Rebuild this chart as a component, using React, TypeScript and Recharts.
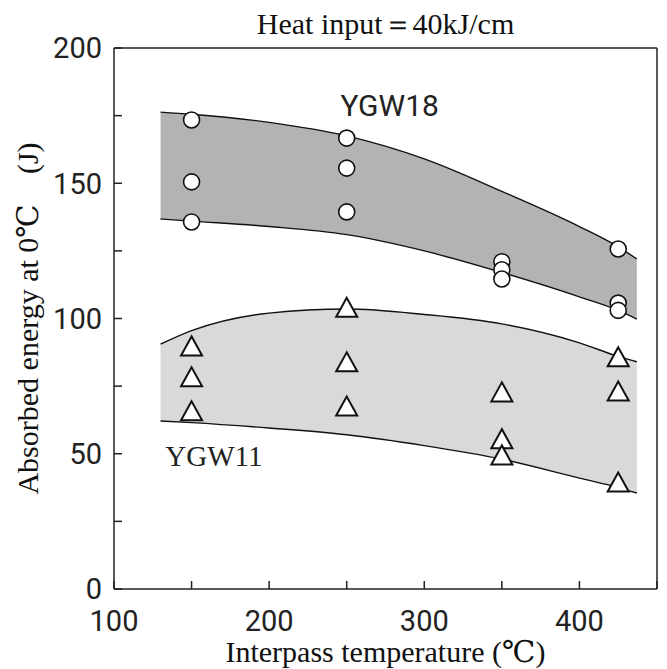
import React from 'react';
import { ComposedChart, Area, Scatter, XAxis, YAxis } from 'recharts';

// Band boundaries (x = interpass temperature, values = absorbed energy)
const bandX = [130, 150, 200, 250, 300, 350, 400, 425, 437];
const ygw18Upper = [176.3, 175.5, 172.5, 167.5, 159, 147, 134, 126.5, 122];
const ygw18Lower = [136.8, 136, 134, 131, 125, 117, 108, 103, 99.8];
const ygw11Upper = [90.5, 95.5, 102, 103.5, 101.5, 98, 91, 86, 84];
const ygw11Lower = [62.1, 61.5, 59.5, 57, 53, 48, 41, 37.5, 35.5];

// Measured points
const ygw18X = [150, 150, 150, 250, 250, 250, 350, 350, 350, 425, 425, 425];
const ygw18Y = [173.4, 150.5, 135.7, 166.7, 155.6, 139.4, 121, 118, 114.6, 125.7, 105.7, 103];
const ygw11X = [150, 150, 150, 250, 250, 250, 350, 350, 350, 425, 425, 425];
const ygw11Y = [88.7, 77.3, 64.7, 103, 82.8, 66.5, 71.7, 54.4, 48.4, 84.7, 72, 38.4];

// Axis ticks
const xTicks = [100, 150, 200, 250, 300, 350, 400, 450];
const yTicks = [0, 25, 50, 75, 100, 125, 150, 175, 200];

// Annotations
const annotations = [
  { x: 277.7, y: 178.9, text: 'YGW18', serif: false },
  { x: 164.4, y: 49.2, text: 'YGW11', serif: true },
];

const bandData = bandX.map((x, i) => ({
  x,
  ygw18: [ygw18Lower[i], ygw18Upper[i]],
  ygw11: [ygw11Lower[i], ygw11Upper[i]],
}));
const ygw18Pts = ygw18X.map((x, i) => ({ x, y: ygw18Y[i] }));
const ygw11Pts = ygw11X.map((x, i) => ({ x, y: ygw11Y[i] }));

const SERIF = '"Liberation Serif", "Times New Roman", "DejaVu Serif", serif';
const SANS = 'Roboto, "Liberation Sans", Arial, sans-serif';
const AXIS = '#222';

const Circle = (p: any) => (
  <circle cx={p.cx} cy={p.cy} r={8} fill="#fff" stroke="#111" strokeWidth={1.6} />
);
const Triangle = (p: any) => {
  const h = 19;
  const w = 10.5;
  const pts = `${p.cx},${p.cy - (2 * h) / 3} ${p.cx - w},${p.cy + h / 3} ${p.cx + w},${p.cy + h / 3}`;
  return <polygon points={pts} fill="#fff" stroke="#111" strokeWidth={2} strokeLinejoin="miter" />;
};
const Annot = (p: any) => (
  <text
    x={p.cx}
    y={p.cy}
    textAnchor="middle"
    dominantBaseline="central"
    fontSize={p.payload.serif ? 29 : 30}
    fontFamily={p.payload.serif ? SERIF : SANS}
    fill="#222"
  >
    {p.payload.text}
  </text>
);

export default function App() {
  return (
    <div style={{ position: 'absolute', left: 0, top: 0, width: 667, height: 669, background: '#fff' }}>
      <ComposedChart width={667} height={669} data={bandData} margin={{ top: 0, right: 0, bottom: 0, left: 0 }}>
        <XAxis
          dataKey="x"
          type="number"
          domain={[100, 450]}
          ticks={xTicks}
          allowDataOverflow
          height={80}
          tickSize={-8}
          tickMargin={29}
          stroke={AXIS}
          strokeWidth={1.5}
          tick={{ fill: '#222', fontSize: 29, fontFamily: SANS }}
          tickFormatter={(v: number) => (v % 100 === 0 && v < 450 ? String(v) : '')}
          label={{
            content: (props: any) => {
              const vb = props.viewBox;
              return (
                <text x={vb.x + vb.width / 2} y={vb.y + 73} textAnchor="middle" fontSize={30} fontFamily={SERIF} fill="#111">
                  Interpass temperature (℃)
                </text>
              );
            },
          }}
        />
        <XAxis
          xAxisId="top"
          orientation="top"
          dataKey="x"
          type="number"
          domain={[100, 450]}
          ticks={xTicks}
          allowDataOverflow
          height={48}
          tickSize={-8}
          tick={false}
          stroke={AXIS}
          strokeWidth={1.5}
          label={{
            content: (props: any) => {
              const vb = props.viewBox;
              return (
                <text x={vb.x + vb.width / 2} y={34} textAnchor="middle" fontSize={30} fontFamily={SERIF} fill="#111">
                  Heat input＝40kJ/cm
                </text>
              );
            },
          }}
        />
        <YAxis
          type="number"
          domain={[0, 200]}
          ticks={yTicks}
          allowDataOverflow
          width={114}
          tickSize={-8}
          tickMargin={20}
          stroke={AXIS}
          strokeWidth={1.5}
          tick={{ fill: '#222', fontSize: 29, fontFamily: SANS }}
          tickFormatter={(v: number) => (v % 50 === 0 ? String(v) : '')}
          label={{
            content: (props: any) => {
              const vb = props.viewBox;
              const cy = vb.y + vb.height / 2;
              return (
                <text x={38} y={cy} transform={`rotate(-90, 38, ${cy})`} textAnchor="middle" fontSize={30} fontFamily={SERIF} fill="#111">
                  Absorbed energy at 0℃　(J)
                </text>
              );
            },
          }}
        />
        <YAxis
          yAxisId="right"
          orientation="right"
          type="number"
          domain={[0, 200]}
          ticks={yTicks}
          allowDataOverflow
          width={10}
          tickSize={-8}
          tick={false}
          stroke={AXIS}
          strokeWidth={1.5}
        />
        <Area
          dataKey="ygw11"
          type="monotone"
          fill="#d9d9d9"
          fillOpacity={1}
          stroke="#111"
          strokeWidth={1.4}
          isAnimationActive={false}
          dot={false}
          activeDot={false}
        />
        <Area
          dataKey="ygw18"
          type="monotone"
          fill="#b3b3b3"
          fillOpacity={1}
          stroke="#111"
          strokeWidth={1.4}
          isAnimationActive={false}
          dot={false}
          activeDot={false}
        />
        <Scatter data={ygw11Pts} dataKey="y" shape={Triangle} isAnimationActive={false} />
        <Scatter data={ygw18Pts} dataKey="y" shape={Circle} isAnimationActive={false} />
        <Scatter data={annotations} dataKey="y" shape={Annot} isAnimationActive={false} />
      </ComposedChart>
    </div>
  );
}
